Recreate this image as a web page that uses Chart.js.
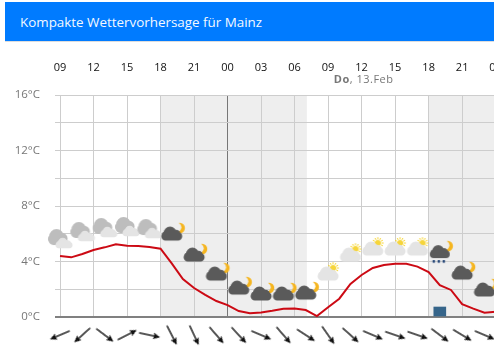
<!DOCTYPE html>
<html lang="de"><head><meta charset="utf-8">
<style>
html,body{margin:0;padding:0;width:494px;height:351px;overflow:hidden;background:#fff}
#head{position:absolute;left:5px;top:2px;width:489px;height:40px;background:#007bff;border-bottom:1px solid #ddd;color:#f4f9ff;font:13.4px/40px "Open Sans",sans-serif;padding-left:15px;box-sizing:border-box;z-index:2}
canvas{position:absolute;left:0;top:0}
</style>
<script src="https://cdn.jsdelivr.net/npm/chart.js@4/dist/chart.umd.js"></script>
</head><body>
<div id="head">Kompakte Wettervorhersage für Mainz</div>
<canvas id="c" width="520" height="351" style="width:520px;height:351px"></canvas>
<script>
const hourLabels = ['09','12','15','18','21','00','03','06','09','12','15','18','21','00'];
const tempLabels = {0:'0°C',4:'4°C',8:'8°C',12:'12°C',16:'16°C'};
const temperature = [4.4,4.3,4.54,4.83,5.02,5.24,5.14,5.12,5.05,4.92,3.87,2.74,2.09,1.6,1.15,0.86,0.43,0.27,0.33,0.45,0.6,0.62,0.5,0.07,0.7,1.32,2.38,3.03,3.53,3.75,3.84,3.84,3.63,3.24,2.3,1.95,0.92,0.6,0.31,0.38];
const precipHours = [34];
const precipValues = [0.72];
const iconHours = [0,2,4,6,8,10,12,14,16,18,20,22,24,26,28,30,32,34,36,38];
const iconLevels = [5.69,6.2,6.49,6.56,6.41,6.05,4.54,3.17,2.16,1.73,1.73,1.8,3.17,4.54,4.97,4.97,4.97,4.68,3.24,2.02];
const iconKinds = ['cloudy','cloudy','cloudy','cloudy','cloudy','night','night','night','night','night','night','night','sun','sun','sun','sun','sun','rain','night','night'];
const windAngles = [157,138,37,-27,12,63,65,49,47,23,49,33,55,42,23,19,19,37,31,23];
const windLevel = -1.3;
const nightBands = [[9,22.1],[33,42]];
const dateHour = 27;

function cloud(g,cx,cy,w,h,col){
  g.fillStyle=col;g.beginPath();
  const b=cy+h/2,r=h*0.3;
  g.arc(cx-w/2+r,b-r,r,0,7);g.moveTo(cx+w/2,b-r);
  g.arc(cx+w/2-r,b-r,r,0,7);
  g.rect(cx-w/2+r,b-2*r,w-2*r,2*r);
  g.moveTo(cx-0.08*w+h*0.46,cy-0.04*h);g.arc(cx-0.08*w,cy-0.04*h,h*0.46,0,7);
  g.moveTo(cx+0.2*w+h*0.36,cy+0.1*h);g.arc(cx+0.2*w,cy+0.1*h,h*0.36,0,7);
  g.moveTo(cx-0.28*w+h*0.3,cy+0.12*h);g.arc(cx-0.28*w,cy+0.12*h,h*0.3,0,7);
  g.fill();
}
function moon(g,cx,cy){
  const t=document.createElement('canvas');t.width=t.height=44;const m=t.getContext('2d');
  m.fillStyle='#f5b51f';m.beginPath();m.arc(cx,cy,5.2,0,7);m.fill();
  m.globalCompositeOperation='destination-out';m.beginPath();m.arc(cx-3,cy-0.8,4.6,0,7);m.fill();
  g.drawImage(t,0,0);
}
function sun(g,cx,cy){
  g.strokeStyle='#f6d32a';g.fillStyle='#f6d53a';g.lineWidth=1;
  g.beginPath();g.arc(cx,cy,3,0,7);g.fill();
  for(let i=0;i<12;i++){const a=i*Math.PI/6;g.beginPath();g.moveTo(cx+3.6*Math.cos(a),cy+3.6*Math.sin(a));g.lineTo(cx+5.8*Math.cos(a),cy+5.8*Math.sin(a));g.stroke();}
}
function mk(fn){const c=document.createElement('canvas');c.width=c.height=44;fn(c.getContext('2d'));return c;}
const icons={
  cloudy:mk(g=>{cloud(g,20,21,19,16,'#bdbdbd');cloud(g,26,27,17,10.5,'#e4e4e4');}),
  night:mk(g=>{moon(g,30,17);cloud(g,22,22.5,21,14,'#5a5a5a');}),
  sun:mk(g=>{sun(g,27,17);cloud(g,22,22.5,21,14,'#e4e4e4');}),
  rain:mk(g=>{moon(g,30,16);cloud(g,22,21.5,20,13,'#5a5a5a');g.fillStyle='#2a4a7a';[16,21,26].forEach(x=>{g.fillRect(x-1.2,30,2.4,2.6);});})
};
const arrow=mk(g=>{g.strokeStyle='#111';g.fillStyle='#111';g.lineWidth=1.4;g.beginPath();g.moveTo(11.5,22);g.lineTo(29,22);g.stroke();g.beginPath();g.moveTo(33,22);g.lineTo(26,18.8);g.lineTo(27.2,22);g.lineTo(26,25.2);g.closePath();g.fill();});

const backdrop={id:'backdrop',beforeDraw(ch){
  const {ctx,scales:{x},chartArea:a}=ch;ctx.save();ctx.fillStyle='#eeeeee';
  nightBands.forEach(([s,e])=>{const l=x.getPixelForValue(s);ctx.fillRect(l,a.top,x.getPixelForValue(e)-l,a.bottom-a.top);});
  ctx.restore();
},afterDraw(ch){
  const {ctx,scales:{x}}=ch;ctx.save();ctx.textBaseline='middle';ctx.fillStyle='#777';
  ctx.letterSpacing='0.5px';
  const f1='bold 11px "Open Sans",sans-serif',f2='11px "Open Sans",sans-serif';
  const a='Do',b=', 13.Feb';ctx.font=f1;const wa=ctx.measureText(a).width;ctx.font=f2;const wb=ctx.measureText(b).width;
  const l=x.getPixelForValue(dateHour)+2-(wa+wb)/2;
  ctx.font=f1;ctx.fillText(a,l,80);ctx.font=f2;ctx.fillText(b,l+wa,80);ctx.restore();
}};

new Chart(document.getElementById('c'),{
  data:{datasets:[
    {type:'scatter',label:'icons',data:iconHours.map((h,i)=>({x:h,y:iconLevels[i]})),pointStyle:c=>icons[iconKinds[c.dataIndex]],pointRadius:20,clip:false,order:1},
    {type:'scatter',label:'wind',data:windAngles.map((_,i)=>({x:i*2,y:windLevel})),pointStyle:arrow,pointRadius:22,pointRotation:windAngles,clip:false,order:1},
    {type:'line',label:'temp',data:temperature.map((v,i)=>({x:i,y:v})),borderColor:'#cc0a14',borderWidth:2,pointRadius:0,tension:0,clip:false,order:2},
    {type:'bar',label:'precip',data:precipHours.map((h,i)=>({x:h,y:precipValues[i]})),backgroundColor:'#36658a',barThickness:12,order:3}
  ]},
  options:{
    responsive:false,animation:false,events:[],
    layout:{autoPadding:false,padding:{top:0,bottom:34,left:0,right:0}},
    plugins:{legend:{display:false},tooltip:{enabled:false}},
    scales:{
      x:{type:'linear',position:'top',min:-0.45,max:41.18,offset:false,
        afterFit(s){s.height=95;},
        grid:{offset:false,drawTicks:true,tickLength:21,tickColor:'rgba(0,0,0,0)',color:c=>(c.tick&&c.tick.value%24===15)?'#777':'#cdcdcd',lineWidth:1},
        border:{display:false},
        ticks:{stepSize:3,includeBounds:false,autoSkip:false,maxRotation:0,padding:0,color:'#111',font:{family:'"Open Sans",sans-serif',size:11},callback:v=>hourLabels[v/3]??''}},
      y:{type:'linear',min:0,max:16,
        afterFit(s){s.width=55;},
        grid:{drawTicks:false,color:c=>c.tick&&c.tick.value===0?'#808080':'#cdcdcd',lineWidth:c=>c.tick&&c.tick.value===0?2:1},
        border:{display:false},
        ticks:{stepSize:2,includeBounds:false,padding:15,color:'#777',font:{family:'"Open Sans",sans-serif',size:11.5},callback:v=>tempLabels[v]??''}}
    }
  },
  plugins:[backdrop]
});
</script>
</body></html>
